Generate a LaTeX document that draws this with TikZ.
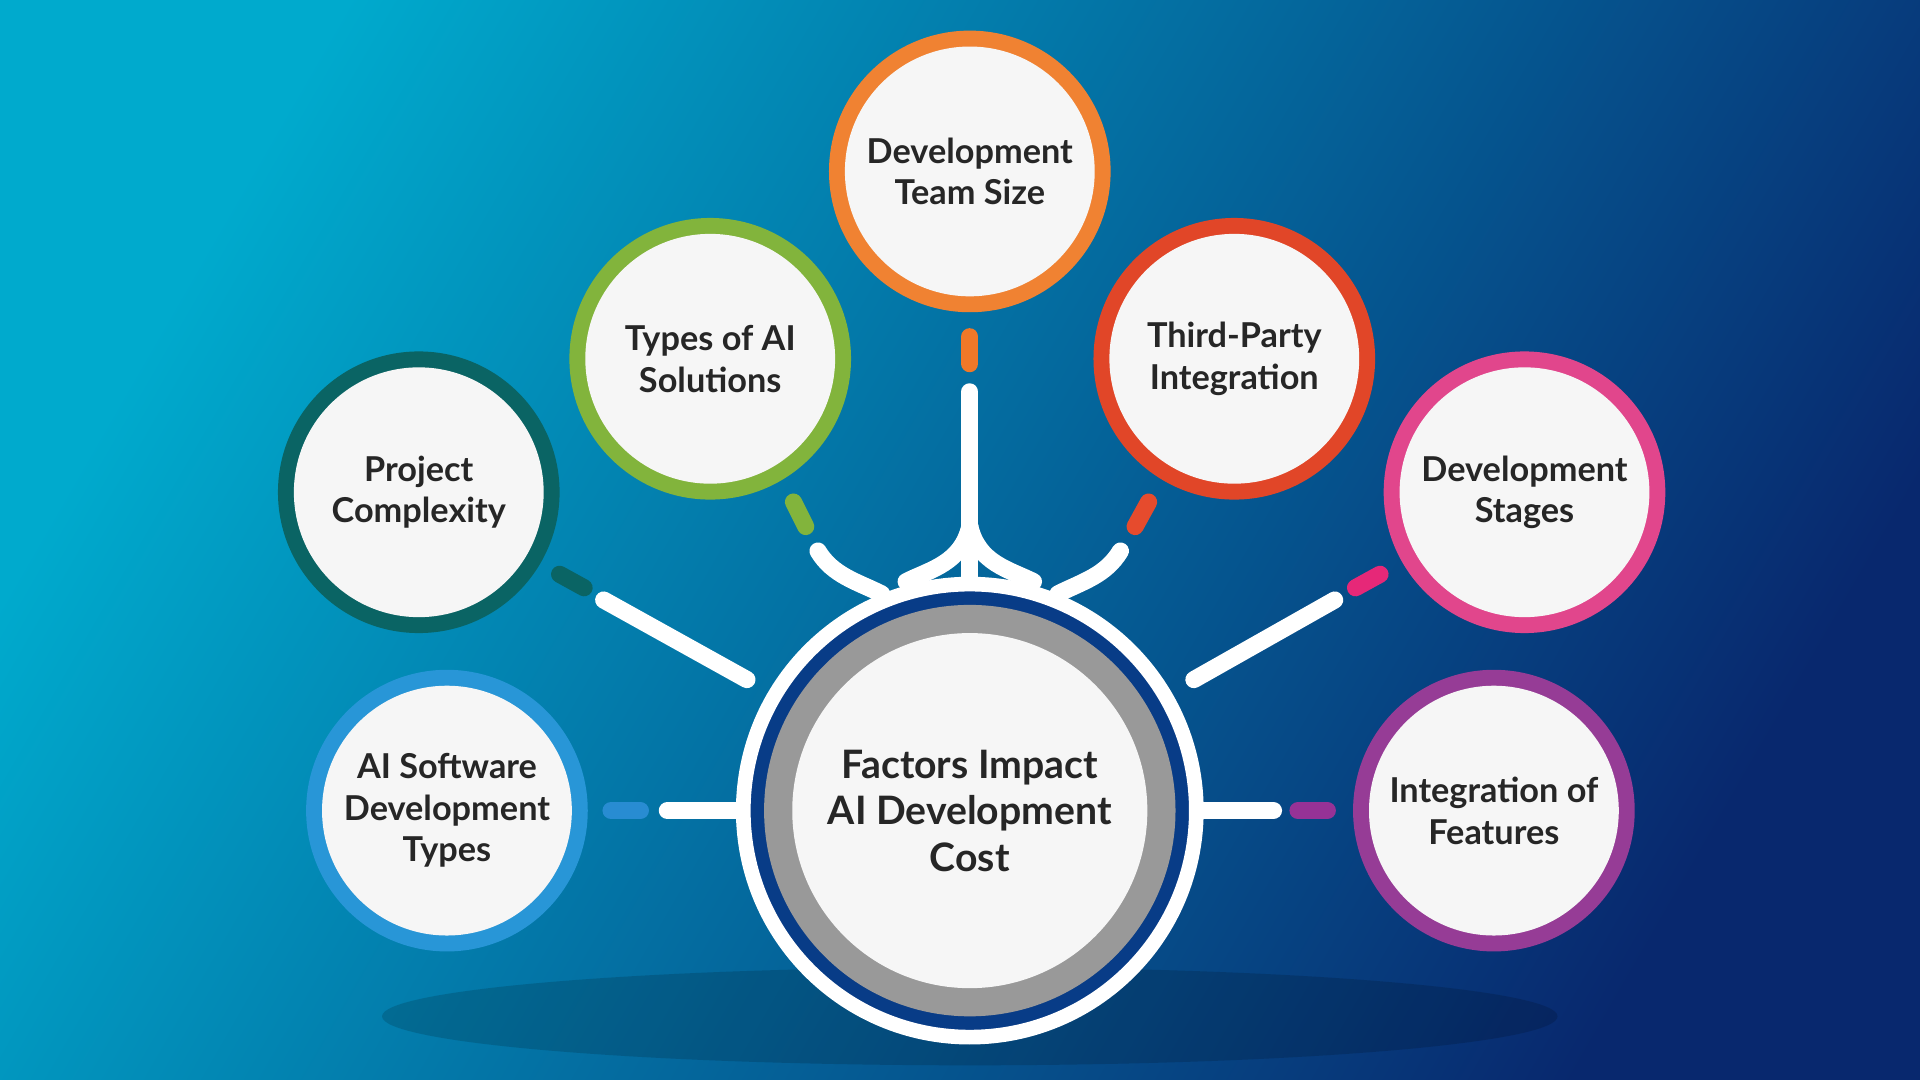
\documentclass[tikz,border=0pt]{standalone}
\usepackage{fontspec}
\setmainfont{Lato}
\tikzset{every picture/.style={line width=0.75pt}}
\tikzset{
  spoke/.style={draw=white, line width=7pt, line cap=round},
  tick/.style={line width=7pt, line cap=round},
  factor/.style={circle, fill=white!93!gray, minimum size=102pt, inner sep=0pt, align=center,
    font=\fontsize{14}{17}\selectfont\bfseries, text=black!85},
}
\begin{document}
\begin{tikzpicture}[x=0.5pt,y=-0.5pt]
    \useasboundingbox (0,0) rectangle (1568,882);
    % background
    \shade[left color={rgb,255:red,0;green,170;blue,205}, right color={rgb,255:red,8;green,40;blue,110}, shading angle=60] (0,0) rectangle (1568,882);
    \fill[black, opacity=0.15] (792,830) ellipse (480 and 40);

    % spokes
    \draw[spoke] (792,320) -- (792,485);
    \draw[spoke] (493,490) -- (610,555);
    \draw[spoke] (1090,490) -- (975,555);
    \draw[spoke] (545,662) -- (612,662);
    \draw[spoke] (1040,662) -- (972,662);
    \draw[spoke] (668,450) .. controls (680,470) and (700,475) .. (720,485);
    \draw[spoke] (915,450) .. controls (903,470) and (884,475) .. (864,485);
    \draw[spoke] (792,430) .. controls (785,460) and (760,465) .. (740,475);
    \draw[spoke] (792,430) .. controls (799,460) and (824,465) .. (844,475);

    % centre
    \node[circle, draw=white, line width=6pt, fill={rgb,255:red,8;green,60;blue,135}, minimum size=185pt] (hubring) at (792,662) {};
    \node[circle, fill=gray!80, minimum size=168pt] (hubgrey) at (792,662) {};
    \node[factor, minimum size=145pt, font=\fontsize{16}{19}\selectfont\bfseries] (hub) at (792,662) {Factors Impact\\AI Development\\Cost};

    % dashes
    \draw[tick, draw={rgb,255:red,240;green,120;blue,40}] (792,275) -- (792,297);
    \draw[tick, draw={rgb,255:red,130;green,180;blue,60}] (648,410) -- (658,430);
    \draw[tick, draw={rgb,255:red,230;green,75;blue,45}] (938,410) -- (927,430);
    \draw[tick, draw={rgb,255:red,10;green,100;blue,100}] (457,469) -- (477,480);
    \draw[tick, draw={rgb,255:red,230;green,40;blue,120}] (1127,469) -- (1107,480);
    \draw[tick, draw={rgb,255:red,40;green,140;blue,210}] (499,662) -- (523,662);
    \draw[tick, draw={rgb,255:red,150;green,50;blue,150}] (1060,662) -- (1084,662);

    % factors
    \foreach \pos/\col/\nm/\txt in {
      {(792,140)}/{rgb,255:red,240;green,130;blue,50}/team/{Development\\Team Size},
      {(580,293)}/{rgb,255:red,130;green,180;blue,60}/types/{Types of AI\\Solutions},
      {(1008,293)}/{rgb,255:red,225;green,70;blue,40}/third/{Third-Party\\Integration},
      {(342,402)}/{rgb,255:red,10;green,100;blue,100}/complex/{Project\\Complexity},
      {(1245,402)}/{rgb,255:red,225;green,70;blue,140}/stages/{Development\\Stages},
      {(365,662)}/{rgb,255:red,40;green,150;blue,215}/soft/{AI Software\\Development\\Types},
      {(1220,662)}/{rgb,255:red,150;green,60;blue,150}/feat/{Integration of\\Features}}{
      \node[circle, fill=\col, minimum size=115pt] (\nm ring) at \pos {};
      \node[factor] (\nm) at \pos {\txt};
    }
\end{tikzpicture}
\end{document}
